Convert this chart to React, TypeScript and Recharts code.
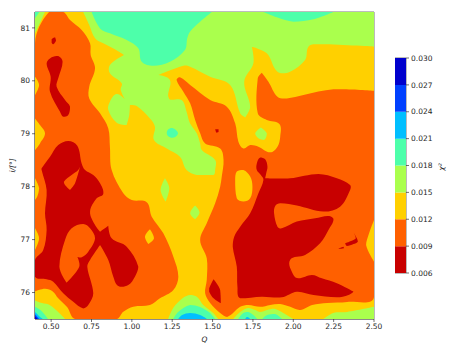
import React from 'react';
import { BarChart, Bar, ScatterChart, Scatter, XAxis, YAxis, ReferenceArea } from 'recharts';

type Pt = [number, number];

const qTicks = [0.5, 0.75, 1.0, 1.25, 1.5, 1.75, 2.0, 2.25, 2.5];
const iTicks = [76, 77, 78, 79, 80, 81];
const levels = [0.006, 0.009, 0.012, 0.015, 0.018, 0.021, 0.024, 0.027, 0.03];
const bandColors = ['#c80000', '#ff6000', '#ffd000', '#aaff4d', '#4dffaa', '#00bfff', '#0040ff', '#0000cd'];
const [RED, ORANGE, YELLOW, GREEN, TEAL, SKY, BLUE, NAVY] = bandColors;

// contour outlines, as [Q, i] pairs
const baseYellow: Pt[] = [[0.4, 75.5], [2.5, 75.5], [2.5, 81.3], [0.4, 81.3]];

const greenMain: Pt[] = [
  [0.699, 81.3], [2.5, 81.3], [2.5, 80.645], [2.146, 80.689], [2.094, 80.645], [2.073, 80.393], [1.98, 80.173],
  [1.902, 80.173], [1.836, 80.519], [1.743, 80.645], [1.753, 80.33], [1.696, 79.984], [1.733, 79.511],
  [1.702, 79.309], [1.671, 79.385], [1.609, 79.92], [1.485, 80.078], [1.361, 80.267], [1.319, 80.286],
  [1.164, 80.11], [1.236, 80.015], [1.23, 79.668], [1.308, 79.637], [1.339, 79.416], [1.36, 79.196],
  [1.402, 79.007], [1.423, 78.818], [1.433, 78.692], [1.516, 78.503], [1.516, 78.314], [1.506, 78.222],
  [1.402, 78.222], [1.339, 78.314], [1.298, 78.566], [1.216, 78.723], [1.137, 78.881], [1.143, 79.133],
  [1.112, 79.29], [1.03, 79.524], [0.988, 79.542], [0.984, 79.354], [0.968, 79.164], [0.906, 79.209],
  [0.854, 79.448], [0.864, 79.606], [0.906, 79.75], [0.957, 79.65], [0.931, 79.826], [0.937, 79.952],
  [0.864, 80.141], [0.864, 80.299], [0.951, 80.487], [0.895, 80.595], [0.823, 80.708], [0.772, 80.803],
  [0.736, 81.055],
];
const greenCorner: Pt[] = [[0.4, 81.3], [0.462, 81.3], [0.4, 80.897]];
const tealCorner: Pt[] = [[0.4, 81.3], [0.427, 81.3], [0.4, 81.18]];
const tealTop: Pt[] = [
  [0.751, 81.3], [0.803, 80.99], [0.864, 80.897], [0.968, 80.771], [1.04, 80.613], [1.061, 80.361],
  [1.133, 80.286], [1.236, 80.361], [1.329, 80.582], [1.343, 80.803], [1.36, 80.929], [1.423, 81.117], [1.495, 81.3],
];
const tealTopRight: Pt[] = [[1.815, 81.3], [1.898, 81.2], [2.001, 81.117], [2.125, 81.162], [2.249, 81.3]];
const tealSpot: Pt[] = [
  [1.216, 79.02], [1.226, 79.083], [1.251, 79.108], [1.277, 79.057], [1.286, 79.007], [1.271, 78.944], [1.246, 78.925], [1.222, 78.963],
];

const orangeLeft: Pt[] = [
  [0.487, 81.3], [0.575, 81.3], [0.617, 81.149], [0.689, 80.96], [0.741, 80.708], [0.745, 80.487], [0.772, 80.236],
  [0.736, 79.889], [0.736, 79.668], [0.803, 79.385], [0.854, 79.1], [0.864, 78.755], [0.875, 78.314], [0.947, 77.875],
  [0.999, 77.749], [1.092, 77.705], [1.123, 77.434], [1.195, 77.119], [1.257, 76.678], [1.288, 76.3], [1.257, 76.048],
  [1.174, 75.89], [1.112, 75.764], [1.009, 75.733], [0.947, 75.638], [0.906, 75.5], [0.648, 75.5], [0.6, 75.72],
  [0.544, 75.89], [0.51, 76.02], [0.462, 76.07], [0.4, 76.02], [0.4, 80.708],
];
const orangeRight: Pt[] = [
  [1.298, 80.065], [1.361, 79.92], [1.485, 79.637], [1.588, 79.511], [1.64, 79.196], [1.66, 78.85], [1.691, 78.723],
  [1.733, 78.787], [1.784, 78.755], [1.857, 78.648], [1.902, 78.755], [1.919, 78.944], [1.914, 79.183], [1.836, 79.259],
  [1.78, 79.385], [1.78, 80.047], [1.805, 80.154], [1.846, 79.984], [1.902, 79.7], [1.96, 79.668], [2.063, 79.731],
  [2.249, 79.839], [2.5, 79.813], [2.5, 75.917], [2.334, 75.822], [2.21, 75.803], [2.117, 75.766], [2.043, 75.67],
  [1.981, 75.73], [1.919, 75.784], [1.857, 75.766], [1.795, 75.73], [1.721, 75.766], [1.671, 75.73], [1.59, 75.54],
  [1.547, 75.614], [1.485, 75.803], [1.454, 75.985], [1.464, 76.237], [1.464, 76.646], [1.423, 76.993], [1.464, 77.308],
  [1.516, 77.686], [1.547, 78.0], [1.557, 78.19], [1.568, 78.503], [1.547, 78.723], [1.454, 78.818], [1.423, 79.007],
  [1.392, 79.259], [1.361, 79.574], [1.319, 79.795], [1.277, 80.015],
];

const yellowEdgeA: Pt[] = [[0.4, 80.078], [0.425, 79.92], [0.4, 79.731]];
const yellowEdgeB: Pt[] = [[0.4, 79.29], [0.431, 79.165], [0.462, 79.007], [0.431, 78.818], [0.4, 78.692]];
const yellowEdgeC: Pt[] = [[0.4, 78.158], [0.425, 77.97], [0.414, 77.812], [0.4, 77.749]];
const yellowEdgeD: Pt[] = [[0.4, 77.213], [0.425, 77.024], [0.4, 76.804]];
const yellowEdgeE: Pt[] = [[2.5, 77.371], [2.466, 77.087], [2.451, 76.898], [2.5, 76.584]];
const yellowSpot: Pt[] = [[1.112, 77.195], [1.137, 77.024], [1.102, 76.917], [1.081, 77.056]];
const yellowLobe: Pt[] = [
  [1.64, 78.127], [1.65, 78.285], [1.691, 78.316], [1.733, 78.19], [1.747, 78.0], [1.733, 77.78], [1.691, 77.718], [1.65, 77.78],
];

const greenSpotA: Pt[] = [[1.205, 78.158], [1.232, 77.97], [1.209, 77.718], [1.178, 77.938]];
const greenSpotB: Pt[] = [[1.392, 77.642], [1.419, 77.51], [1.392, 77.384], [1.361, 77.497]];
const greenSpotC: Pt[] = [[1.764, 79.007], [1.799, 79.12], [1.836, 79.007], [1.819, 78.881], [1.784, 78.913]];

const redDot: Pt[] = [[0.503, 80.784], [0.524, 80.822], [0.53, 80.759], [0.513, 80.689], [0.503, 80.721]];
const redStrip: Pt[] = [
  [0.472, 80.33], [0.503, 80.443], [0.544, 80.469], [0.571, 80.361], [0.544, 80.047], [0.534, 79.889], [0.586, 79.637],
  [0.617, 79.511], [0.606, 79.354], [0.575, 79.322], [0.555, 79.416], [0.493, 79.795], [0.497, 80.078],
];
const redLeft: Pt[] = [
  [0.441, 78.346], [0.493, 78.566], [0.544, 78.786], [0.606, 78.862], [0.662, 78.774], [0.689, 78.44], [0.71, 78.316],
  [0.761, 78.22], [0.803, 78.064], [0.823, 77.862], [0.782, 77.78], [0.741, 77.528], [0.772, 77.276], [0.803, 77.15],
  [0.854, 77.264], [0.875, 77.024], [0.968, 76.867], [1.04, 76.489], [1.019, 76.3], [0.978, 76.143], [0.916, 76.124],
  [0.885, 76.3], [0.854, 76.615], [0.803, 76.898], [0.741, 76.615], [0.724, 76.489], [0.761, 75.985], [0.73, 75.764],
  [0.699, 75.7], [0.637, 75.826], [0.575, 75.985], [0.513, 76.206], [0.472, 76.25], [0.4, 76.3], [0.4, 76.615],
  [0.451, 76.804], [0.472, 77.182], [0.462, 77.497], [0.472, 77.938], [0.441, 78.316],
];
const orangeNotch: Pt[] = [
  [0.679, 78.38], [0.648, 78.064], [0.617, 77.938], [0.586, 78.032], [0.579, 78.095], [0.627, 78.22], [0.668, 78.316],
];
const orangeIsland: Pt[] = [
  [0.627, 77.214], [0.699, 77.295], [0.741, 77.214], [0.772, 77.024], [0.73, 76.772], [0.689, 76.665], [0.662, 76.678],
  [0.674, 76.489], [0.596, 76.187], [0.551, 76.489], [0.586, 76.993],
];
const redRight: Pt[] = [
  [1.774, 78.44], [1.795, 78.553], [1.826, 78.516], [1.84, 78.377], [1.832, 78.251], [1.826, 78.159], [1.98, 78.159],
  [2.156, 78.24], [2.27, 78.159], [2.352, 78.032], [2.352, 77.938], [2.29, 77.623], [2.187, 77.529], [2.022, 77.642],
  [1.919, 77.686], [1.888, 77.636], [1.881, 77.497], [1.902, 77.245], [1.929, 77.214], [2.022, 77.34], [2.135, 77.402],
  [2.218, 77.447], [2.249, 77.384], [2.218, 77.182], [2.166, 76.93], [2.073, 76.71], [1.98, 76.615], [2.001, 76.332],
  [2.032, 76.268], [2.115, 76.332], [2.177, 76.268], [2.27, 76.174], [2.373, 76.016], [2.342, 75.953], [2.27, 75.909],
  [2.125, 75.953], [2.022, 76.016], [1.929, 75.91], [1.805, 75.922], [1.671, 75.89], [1.654, 76.11], [1.65, 76.489],
  [1.625, 76.867], [1.634, 77.056], [1.671, 77.245], [1.733, 77.497], [1.784, 77.875], [1.815, 78.127], [1.799, 78.22], [1.774, 78.314],
];
const redDrop: Pt[] = [[1.479, 76.08], [1.506, 76.25], [1.547, 76.048], [1.551, 75.796], [1.506, 75.89], [1.479, 76.016]];
const redSliver: Pt[] = [
  [2.373, 77.138], [2.394, 77.024], [2.4, 76.961], [2.373, 76.917], [2.332, 76.88], [2.321, 76.93], [2.373, 76.993], [2.387, 77.024],
];
const redSliverB: Pt[] = [[2.28, 76.835], [2.311, 76.867], [2.315, 76.835], [2.284, 76.823]];
const redSpeck: Pt[] = [[1.516, 79.083], [1.537, 79.083], [1.537, 79.032], [1.522, 79.02]];

const lowGreenA: Pt[] = [[0.4, 75.85], [0.443, 75.8], [0.493, 75.76], [0.544, 75.63], [0.586, 75.5], [0.4, 75.5]];
const lowTealA: Pt[] = [[0.4, 75.73], [0.44, 75.65], [0.48, 75.5], [0.4, 75.5]];
const lowSkyA: Pt[] = [[0.4, 75.63], [0.431, 75.54], [0.45, 75.5], [0.4, 75.5]];
const lowBlueA: Pt[] = [[0.4, 75.59], [0.425, 75.5], [0.4, 75.5]];
const lowNavyA: Pt[] = [[0.4, 75.55], [0.415, 75.5], [0.4, 75.5]];
const lowGreenB: Pt[] = [
  [1.225, 75.5], [1.256, 75.71], [1.318, 75.9], [1.361, 75.954], [1.404, 75.917], [1.442, 75.766], [1.504, 75.614], [1.535, 75.5],
];
const lowTealB: Pt[] = [
  [1.256, 75.5], [1.287, 75.633], [1.361, 75.766], [1.423, 75.728], [1.485, 75.614], [1.516, 75.5],
];
const lowSkyB: Pt[] = [[1.287, 75.5], [1.311, 75.576], [1.361, 75.614], [1.423, 75.576], [1.466, 75.5]];
const lowGreenC: Pt[] = [
  [1.628, 75.5], [1.671, 75.633], [1.721, 75.71], [1.764, 75.67], [1.795, 75.633], [1.838, 75.67], [1.888, 75.69], [1.938, 75.614], [2.0, 75.5],
];
const lowTealC: Pt[] = [[1.659, 75.5], [1.69, 75.614], [1.721, 75.633], [1.752, 75.576], [1.777, 75.5]];
const lowSkyC: Pt[] = [[1.702, 75.5], [1.714, 75.54], [1.733, 75.5]];
const lowTealD: Pt[] = [[1.807, 75.5], [1.838, 75.576], [1.888, 75.595], [1.93, 75.5]];
const lowGreenD: Pt[] = [[2.186, 75.5], [2.248, 75.614], [2.334, 75.633], [2.5, 75.73], [2.5, 75.5]];

// painted in this order, later ones on top
const regions: [Pt[], string][] = [
  [baseYellow, YELLOW],
  [greenMain, GREEN], [greenCorner, GREEN], [tealCorner, TEAL], [tealTop, TEAL], [tealTopRight, TEAL], [tealSpot, TEAL],
  [orangeLeft, ORANGE], [orangeRight, ORANGE],
  [yellowEdgeA, YELLOW], [yellowEdgeB, YELLOW], [yellowEdgeC, YELLOW], [yellowEdgeD, YELLOW], [yellowEdgeE, YELLOW],
  [yellowSpot, YELLOW], [yellowLobe, YELLOW],
  [greenSpotA, GREEN], [greenSpotB, GREEN], [greenSpotC, GREEN],
  [redDot, RED], [redStrip, RED], [redLeft, RED], [orangeNotch, ORANGE], [orangeIsland, ORANGE],
  [redRight, RED], [redDrop, RED], [redSliver, RED], [redSliverB, RED], [redSpeck, RED],
  [lowGreenA, GREEN], [lowTealA, TEAL], [lowSkyA, SKY], [lowBlueA, BLUE], [lowNavyA, NAVY],
  [lowGreenB, GREEN], [lowTealB, TEAL], [lowSkyB, SKY],
  [lowGreenC, GREEN], [lowTealC, TEAL], [lowSkyC, SKY], [lowTealD, TEAL], [lowGreenD, GREEN],
];

const tickStyle = { fontSize: 7.5, fontFamily: 'DejaVu Sans', fill: '#262626' };
const labelStyle = { fontSize: 7.5, fontFamily: 'DejaVu Sans', fontStyle: 'italic', fill: '#262626' };
const axisLine = { stroke: '#333', strokeWidth: 0.7 };

// one stacked column for the colour bar: the hidden base reaches up to the first level
const colorbarRow: Record<string, number | string> = { name: 'bar', base: levels[0] };
bandColors.forEach((_, i) => {
  colorbarRow[`band${i}`] = levels[i + 1] - levels[i];
});

const noDot = () => <g />;

// closed curve through the outline points, sharp only where the outline really turns
const contourCurve = (ctx: any) => {
  let pts: Pt[] = [];
  return {
    areaStart() {},
    areaEnd() {},
    lineStart() {
      pts = [];
    },
    point(x: number, y: number) {
      pts.push([x, y]);
    },
    lineEnd() {
      const n = pts.length;
      const xs = pts.map((p) => p[0]);
      const ys = pts.map((p) => p[1]);
      const cx = (v: number) => Math.min(Math.max(v, Math.min(...xs)), Math.max(...xs));
      const cy = (v: number) => Math.min(Math.max(v, Math.min(...ys)), Math.max(...ys));
      const tangents = pts.map((p, i) => {
        const a = pts[(i + n - 1) % n];
        const b = pts[(i + 1) % n];
        const ux = p[0] - a[0];
        const uy = p[1] - a[1];
        const vx = b[0] - p[0];
        const vy = b[1] - p[1];
        const cos = (ux * vx + uy * vy) / (Math.hypot(ux, uy) * Math.hypot(vx, vy) || 1);
        if (cos < 0.05) return [0, 0];
        const len = Math.hypot(b[0] - a[0], b[1] - a[1]) || 1;
        return [(b[0] - a[0]) / len, (b[1] - a[1]) / len];
      });
      ctx.moveTo(pts[0][0], pts[0][1]);
      for (let i = 0; i < n; i++) {
        const j = (i + 1) % n;
        const p = pts[i];
        const q = pts[j];
        const k = Math.hypot(q[0] - p[0], q[1] - p[1]) / 3;
        ctx.bezierCurveTo(
          cx(p[0] + tangents[i][0] * k),
          cy(p[1] + tangents[i][1] * k),
          cx(q[0] - tangents[j][0] * k),
          cy(q[1] - tangents[j][1] * k),
          q[0],
          q[1],
        );
      }
      ctx.closePath();
    },
  };
};

export default function App() {
  return (
    <div style={{ position: 'absolute', left: 0, top: 0, width: 458, height: 351, background: '#fff' }}>
      <div style={{ position: 'absolute', left: 0, top: 0 }}>
        <ScatterChart width={458} height={351} margin={{ top: 12, right: 84, bottom: 0, left: 0 }}>
          <XAxis
            type="number"
            dataKey="q"
            domain={[0.4, 2.5]}
            ticks={qTicks}
            tickFormatter={(v: number) => v.toFixed(2)}
            tick={tickStyle}
            tickSize={3}
            tickMargin={2}
            height={32}
            axisLine={axisLine}
            tickLine={axisLine}
            allowDataOverflow
            label={{ value: 'Q', position: 'insideBottom', offset: 9, style: labelStyle }}
          />
          <YAxis
            type="number"
            dataKey="i"
            domain={[75.5, 81.3]}
            ticks={iTicks}
            tick={tickStyle}
            tickSize={3}
            tickMargin={2}
            width={35}
            axisLine={axisLine}
            tickLine={axisLine}
            allowDataOverflow
            label={{ value: 'i/[°]', angle: -90, position: 'center', dx: -5.5, style: labelStyle }}
          />
          {regions.map(([pts, fill], idx) => (
            <Scatter
              key={idx}
              data={pts.map(([q, i]) => ({ q, i }))}
              shape={noDot}
              line={{ fill, stroke: 'none' }}
              lineJointType={contourCurve as any}
              isAnimationActive={false}
            />
          ))}
          <ReferenceArea x1={0.4} x2={2.5} y1={75.5} y2={81.3} fill="none" stroke="#555" strokeWidth={0.8} />
        </ScatterChart>
      </div>
      <div style={{ position: 'absolute', left: 395, top: 0 }}>
        <BarChart width={63} height={351} data={[colorbarRow]} margin={{ top: 58, right: 0, bottom: 78, left: 0 }} barCategoryGap={0}>
          <XAxis dataKey="name" hide />
          <YAxis
            orientation="right"
            type="number"
            domain={[0.006, 0.03]}
            ticks={levels}
            tickFormatter={(v: number) => v.toFixed(3)}
            tick={tickStyle}
            tickSize={3}
            tickMargin={2}
            width={52}
            axisLine={false}
            tickLine={axisLine}
            allowDataOverflow
            label={{ value: 'χ²', angle: -90, position: 'center', dx: 9, dy: 1.5, style: labelStyle }}
          />
          <Bar dataKey="base" stackId="cb" fill="none" isAnimationActive={false} />
          {bandColors.map((c, i) => (
            <Bar key={c} dataKey={`band${i}`} stackId="cb" fill={c} isAnimationActive={false} />
          ))}
          <ReferenceArea y1={0.006} y2={0.03} fill="none" stroke="#555" strokeWidth={0.8} />
        </BarChart>
      </div>
    </div>
  );
}
